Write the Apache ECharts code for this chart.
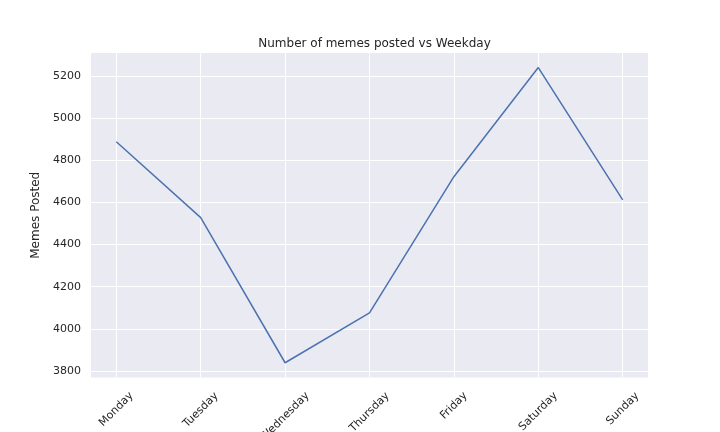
<!DOCTYPE html>
<html>
<head>
<meta charset="utf-8">
<script src="https://cdn.jsdelivr.net/npm/echarts@6/dist/echarts.min.js"></script>
<style>html,body{margin:0;padding:0;background:#fff}#c{width:720px;height:432px}</style>
</head>
<body>
<div id="c"></div>
<script>
var categories = ["Monday", "Tuesday", "Wednesday", "Thursday", "Friday", "Saturday", "Sunday"];
var memesPosted = [4888, 4528, 3839, 4076, 4722, 5240, 4612];
var yTicks = [3800, 4000, 4200, 4400, 4600, 4800, 5000, 5200];
var xTicks = [0, 1, 2, 3, 4, 5, 6];

var FONT = "DejaVu Sans";
var TXT = "#262626";
var fs = 11;

// measure label widths to mimic centered rotated labels
var cv = document.createElement("canvas").getContext("2d");
cv.font = fs + "px '" + FONT + "'";
var rich = {};
categories.forEach(function (c, i) {
  var w = cv.measureText(c).width;
  var h = 13;
  var p = Math.round((w + h) / 2);
  rich["l" + i] = { fontFamily: FONT, fontSize: fs, color: TXT, padding: [p, p, 0, 0] };
});

var yMin = 3769, yMax = 5309;

var chart = echarts.init(document.getElementById("c"), null, { renderer: "canvas" });
chart.setOption({
  animation: false,
  backgroundColor: "#ffffff",
  title: {
    text: "Number of memes posted vs Weekday",
    left: 369.5, textAlign: "center", top: 33,
    textStyle: { fontFamily: FONT, fontSize: 12, fontWeight: "normal", color: TXT }
  },
  grid: {
    left: 91, right: 72, top: 53, bottom: 54.5,
    containLabel: false, outerBoundsMode: "none",
    show: true, backgroundColor: "#EAEAF2", borderWidth: 0
  },
  xAxis: {
    type: "value", min: -0.3, max: 6.3,
    axisLine: { show: false }, axisTick: { show: false, customValues: xTicks },
    splitLine: { show: true, lineStyle: { color: "#ffffff", width: 1 } },
    axisLabel: {
      customValues: xTicks,
      rotate: 45, align: "center", verticalAlign: "middle", margin: 12,
      fontFamily: FONT, fontSize: fs, color: TXT,
      formatter: function (v) { var i = Math.round(v); return "{l" + i + "|" + categories[i] + "}"; },
      rich: rich
    }
  },
  yAxis: {
    type: "value", min: yMin, max: yMax,
    name: "Memes Posted", nameLocation: "middle", nameGap: 39, nameRotate: 90,
    nameTextStyle: { fontFamily: FONT, fontSize: 12, color: TXT },
    axisLine: { show: false }, axisTick: { show: false, customValues: yTicks },
    splitLine: { show: true, lineStyle: { color: "#ffffff", width: 1 } },
    axisLabel: {
      customValues: yTicks, margin: 10, fontFamily: FONT, fontSize: fs, color: TXT,
      formatter: function (v) { return String(v); }
    }
  },
  series: [{
    type: "line",
    data: memesPosted.map(function (v, i) { return [xTicks[i], v]; }),
    showSymbol: false, symbol: "none",
    lineStyle: { color: "#4C72B0", width: 1.5 },
    itemStyle: { color: "#4C72B0" }
  }]
});
</script>
</body>
</html>
